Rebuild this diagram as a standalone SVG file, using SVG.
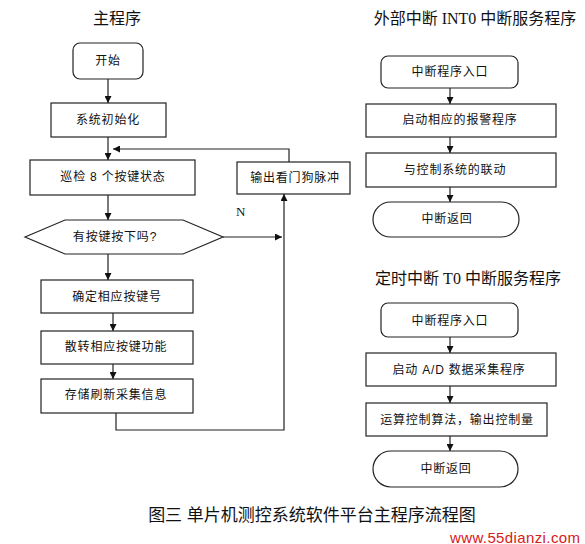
<svg xmlns="http://www.w3.org/2000/svg" width="585" height="544" viewBox="0 0 585 544">
<defs>
<marker id="ah" viewBox="0 0 10 10" refX="10" refY="5" markerWidth="7" markerHeight="7" markerUnits="userSpaceOnUse" orient="auto">
<path d="M0,0 L10,5 L0,10 z" fill="#111"/>
</marker>
</defs>
<style>
.box{fill:#fff;stroke:#222;stroke-width:1.2}
.t{font-family:"Liberation Sans","Noto Sans CJK SC",sans-serif;font-size:12px;fill:#111;text-anchor:middle;dominant-baseline:central;letter-spacing:0.8px}
.title{font-family:"Liberation Serif","Noto Sans CJK SC",sans-serif;font-size:16px;fill:#111;text-anchor:middle;dominant-baseline:central}
.ln{fill:none;stroke:#222;stroke-width:1.2}
.ar{fill:none;stroke:#222;stroke-width:1.2;marker-end:url(#ah)}
</style>
<rect width="585" height="544" fill="#fff"/>

<text class="title" x="117" y="18">主程序</text>
<text class="title" x="475" y="18">外部中断 INT0 中断服务程序</text>
<text class="title" x="468" y="278">定时中断 T0 中断服务程序</text>

<g id="connectors">
<line class="ar" x1="108" y1="79" x2="108" y2="103"/>
<line class="ar" x1="108" y1="137" x2="108" y2="160"/>
<polyline class="ar" points="289,162 289,149 113,149"/>
<line class="ar" x1="108" y1="195" x2="108" y2="220"/>
<line class="ar" x1="223" y1="237" x2="282" y2="237"/>
<line class="ar" x1="108" y1="254" x2="108" y2="280"/>
<line class="ar" x1="113" y1="313" x2="113" y2="331"/>
<line class="ar" x1="113" y1="364" x2="113" y2="379"/>
<polyline class="ar" points="116,413 116,430 284,430 284,194"/>
<line class="ar" x1="450" y1="88" x2="450" y2="104"/>
<line class="ar" x1="450" y1="137" x2="450" y2="153"/>
<line class="ar" x1="450" y1="187" x2="450" y2="202"/>
<line class="ar" x1="450" y1="337" x2="450" y2="353"/>
<line class="ar" x1="450" y1="386" x2="450" y2="403"/>
<line class="ar" x1="450" y1="436" x2="450" y2="451"/>
<text x="236" y="216" font-family="Liberation Serif,serif" font-size="13" fill="#111">N</text>
</g>

<g id="start"><rect class="box" x="73" y="43" width="70" height="36" rx="7"/><text class="t" x="108" y="61">开始</text></g>
<g id="init"><rect class="box" x="51" y="103" width="115" height="34"/><text class="t" x="108" y="120">系统初始化</text></g>
<g id="scan"><rect class="box" x="30" y="160" width="165" height="35"/><text class="t" x="113" y="177">巡检 8 个按键状态</text></g>
<g id="watchdog"><rect class="box" x="237" y="162" width="113" height="32"/><text class="t" x="295" y="178">输出看门狗脉冲</text></g>
<g id="decision"><polygon class="box" points="25,237 65,220 183,220 223,237 183,254 65,254"/><text class="t" x="115" y="237">有按键按下吗?</text></g>
<g id="keyno"><rect class="box" x="41" y="280" width="152" height="33"/><text class="t" x="117" y="297">确定相应按键号</text></g>
<g id="dispatch"><rect class="box" x="41" y="331" width="152" height="33"/><text class="t" x="116" y="347">散转相应按键功能</text></g>
<g id="store"><rect class="box" x="41" y="379" width="152" height="34"/><text class="t" x="116" y="395">存储刷新采集信息</text></g>

<g id="int0-entry"><rect class="box" x="381" y="56" width="137" height="32" rx="7"/><text class="t" x="450" y="72">中断程序入口</text></g>
<g id="int0-alarm"><rect class="box" x="366" y="104" width="190" height="33"/><text class="t" x="460" y="120">启动相应的报警程序</text></g>
<g id="int0-link"><rect class="box" x="366" y="153" width="190" height="34"/><text class="t" x="455" y="170">与控制系统的联动</text></g>
<g id="int0-ret"><rect class="box" x="373" y="202" width="146" height="35" rx="17.5"/><text class="t" x="447" y="219">中断返回</text></g>

<g id="t0-entry"><rect class="box" x="381" y="303" width="137" height="34" rx="7"/><text class="t" x="450" y="321">中断程序入口</text></g>
<g id="t0-ad"><rect class="box" x="366" y="353" width="190" height="33"/><text class="t" x="459" y="370">启动 A/D 数据采集程序</text></g>
<g id="t0-calc"><rect class="box" x="366" y="403" width="181" height="33"/><text class="t" x="457" y="420">运算控制算法，输出控制量</text></g>
<g id="t0-ret"><rect class="box" x="373" y="451" width="145" height="36" rx="18"/><text class="t" x="446" y="469">中断返回</text></g>

<text x="312" y="515" font-family="Liberation Sans,Noto Sans CJK SC,sans-serif" font-size="17" fill="#111" text-anchor="middle" dominant-baseline="central">图三 单片机测控系统软件平台主程序流程图</text>
<text x="515" y="537" font-family="Liberation Sans,sans-serif" font-size="15" fill="#d62020" text-anchor="middle" dominant-baseline="central" textLength="130">www.55dianzi.com</text>
</svg>
